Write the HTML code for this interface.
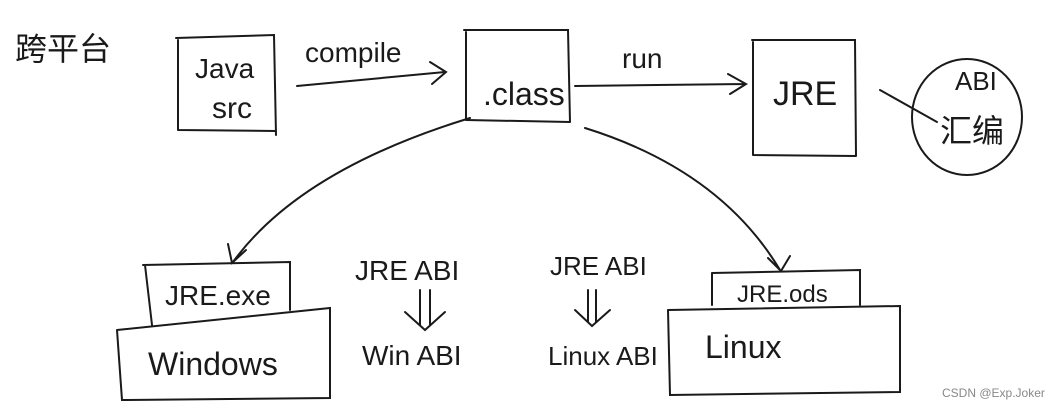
<!DOCTYPE html>
<html><head><meta charset="utf-8"><style>
html,body{margin:0;padding:0;background:#fff;}
svg{display:block}
text{font-family:"Liberation Sans","Noto Sans CJK SC",sans-serif;fill:#1a1a1a}
</style></head><body>
<svg width="1050" height="411" viewBox="0 0 1050 411" xmlns="http://www.w3.org/2000/svg">
<g fill="none" stroke="#1a1a1a" stroke-width="2" stroke-linecap="round">
<path d="M178 40 L178 130 M176 38 L274 35 L276 135 M178 130 L276 131"/>
<path d="M297 86 L445 72 M430 62 L446 72 L432 84"/>
<path d="M466 32 L466 118 M464 30 L568 30 L570 122 M466 120 L570 122"/>
<path d="M575 86 L745 84 M728 74 L746 84 L730 94"/>
<path d="M753 42 L753 155 M752 40 L855 40 L856 156 M753 155 L856 156"/>
<ellipse cx="967" cy="117" rx="55" ry="58"/>
<path d="M880 90 L937 122"/>
<path d="M470 118 Q300 170 233 262 M228 244 L232 263 L246 250"/>
<path d="M585 128 Q720 170 780 270 M768 258 L781 271 L790 256"/>
<path d="M143 265 L290 262 L290 310 M145 265 L152 325"/>
<path d="M117 330 L330 308 L330 398 L122 400 L117 330"/>
<path d="M712 273 L860 270 L860 305 M712 273 L712 305"/>
<path d="M668 310 L900 306 L900 392 L670 395 L668 310"/>
<path d="M420 290 L420 325 M430 290 L430 325 M405 312 L425 330 L445 312"/>
<path d="M588 290 L588 322 M596 290 L596 322 M575 310 L592 326 L610 310"/>
</g>
<g font-size="30">
<text x="15" y="60" font-size="32">跨平台</text>
<text x="195" y="78" font-size="28">Java</text>
<text x="212" y="118" font-size="30">src</text>
<text x="305" y="62" font-size="28">compile</text>
<text x="483" y="105" font-size="32">.class</text>
<text x="622" y="68" font-size="28">run</text>
<text x="773" y="105" font-size="34">JRE</text>
<text x="955" y="90" font-size="26">ABI</text>
<text x="940" y="142" font-size="32">汇编</text>
<text x="165" y="305" font-size="28">JRE.exe</text>
<text x="148" y="375" font-size="32">Windows</text>
<text x="355" y="280" font-size="28">JRE ABI</text>
<text x="362" y="365" font-size="28">Win ABI</text>
<text x="550" y="275" font-size="26">JRE ABI</text>
<text x="548" y="365" font-size="26">Linux ABI</text>
<text x="737" y="302" font-size="24">JRE.ods</text>
<text x="705" y="358" font-size="32">Linux</text>
</g>
<text x="942" y="397" font-size="12" style="fill:#888">CSDN @Exp.Joker</text>
</svg>
</body></html>
